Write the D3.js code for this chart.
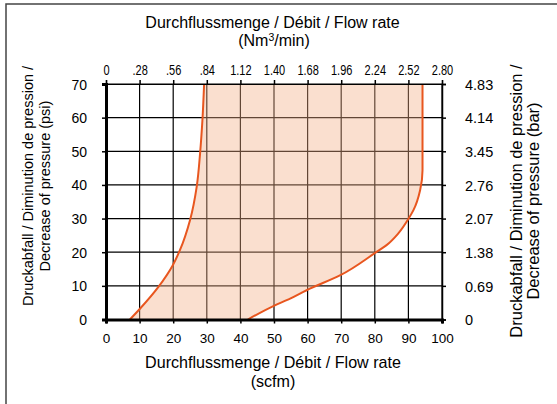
<!DOCTYPE html>
<html>
<head>
<meta charset="utf-8">
<script src="https://cdn.jsdelivr.net/npm/d3@7"></script>
<style>
  html, body { margin: 0; padding: 0; background: #fff; }
  svg { display: block; font-family: "Liberation Sans", Arial, sans-serif; }
</style>
</head>
<body>
<script>
// Flow rate (scfm) vs pressure drop (psi)
const scfmTicks = [0, 10, 20, 30, 40, 50, 60, 70, 80, 90, 100];
const psiTicks = [0, 10, 20, 30, 40, 50, 60, 70];
const nmTickLabels = ["0", ".28", ".56", ".84", "1.12", "1.40", "1.68", "1.96", "2.24", "2.52", "2.80"];
const barTickLabels = ["0", "0.69", "1.38", "2.07", "2.76", "3.45", "4.14", "4.83"];

// Lower flow limit curve: [scfm, psi]
const minCurve = [
  [7.1, 0], [10.1, 3.2], [15.6, 9.7], [19.8, 16], [22.0, 20.6], [25.0, 29.5],
  [27.0, 39.5], [28.0, 49.4], [28.7, 59.3], [29.2, 70]
];
// Upper flow limit curve: [scfm, psi]
const maxCurve = [
  [42.2, 0], [49.8, 4], [54.8, 6.2], [59.7, 8.7], [69.6, 13.1],
  [80.1, 19.8], [83.5, 22.1], [87.0, 25.6], [90.0, 29.9], [91.5, 32.5],
  [93.5, 38.5], [94.2, 44.4], [94.2, 70]
];

const W = 557, H = 404;
const plot = { left: 106, right: 442, top: 84, bottom: 319.5 };
const FONT = "'Liberation Sans', Arial, sans-serif";

const svg = d3.select("body").append("svg").attr("width", W).attr("height", H);

// outer frame
svg.append("rect").attr("x", 6).attr("y", 4).attr("width", 600).attr("height", 500)
  .attr("fill", "none").attr("stroke", "#444").attr("stroke-width", 1.5);

const x = d3.scaleLinear().domain([0, 100]).range([plot.left, plot.right]);
const y = d3.scaleLinear().domain([0, 70]).range([plot.bottom, plot.top]);
const xTop = d3.scalePoint().domain(nmTickLabels).range([plot.left, plot.right]);
const yRight = d3.scalePoint().domain(barTickLabels).range([plot.bottom, plot.top]);

const g = svg.append("g");

// grid
g.append("g").selectAll("line").data(scfmTicks).join("line")
  .attr("x1", d => x(d)).attr("x2", d => x(d))
  .attr("y1", plot.top).attr("y2", plot.bottom)
  .attr("stroke", "#000").attr("stroke-width", 1.2);
g.append("g").selectAll("line").data(psiTicks).join("line")
  .attr("x1", plot.left).attr("x2", plot.right)
  .attr("y1", d => y(d)).attr("y2", d => y(d))
  .attr("stroke", "#000").attr("stroke-width", 1.2);

// operating range fill
const area = minCurve.concat(maxCurve.slice().reverse());
const curve = d3.line().x(d => x(d[0])).y(d => y(d[1])).curve(d3.curveMonotoneY);
const poly = d3.line().x(d => x(d[0])).y(d => y(d[1])).curve(d3.curveLinearClosed);
g.append("path").datum(area).attr("d", poly)
  .attr("fill", "rgb(242,175,135)").attr("fill-opacity", 0.4).attr("stroke", "none");

// curves
[minCurve, maxCurve].forEach(c => {
  g.append("path").datum(c).attr("d", curve)
    .attr("fill", "none").attr("stroke", "#e8561f").attr("stroke-width", 2);
});

// axes
const axB = d3.axisBottom(x).tickValues(scfmTicks).tickSize(4).tickPadding(10);
const axL = d3.axisLeft(y).tickValues(psiTicks).tickSize(4).tickPadding(15);
const axT = d3.axisTop(xTop).tickSize(4).tickPadding(5);
const axR = d3.axisRight(yRight).tickSize(4).tickPadding(19);

function styleAxis(sel, w, size) {
  sel.attr("font-family", null).attr("font-size", null);
  sel.select(".domain").attr("stroke", "#000").attr("stroke-width", w);
  sel.selectAll(".tick line").attr("stroke", "#000").attr("stroke-width", 1.5);
  sel.selectAll(".tick text").attr("fill", "#000").style("font-size", size + "px")
    .style("font-family", FONT);
}
const gT = svg.append("g").attr("transform", `translate(0,${plot.top})`).call(axT);
styleAxis(gT, 1.2, 14.5);
gT.selectAll(".tick text").attr("transform", "scale(0.76,1)");
const gR = svg.append("g").attr("transform", `translate(${plot.right},0)`).call(axR);
styleAxis(gR, 1.5, 14.5);
gR.selectAll(".tick text").attr("dy", "0.36em");
const gB = svg.append("g").attr("transform", `translate(0,${plot.bottom})`).call(axB);
styleAxis(gB, 3, 13.5);
const gL = svg.append("g").attr("transform", `translate(${plot.left},0)`).call(axL);
styleAxis(gL, 3, 14);
gL.selectAll(".tick text").attr("dy", "0.36em");

// titles
const title = (tx, ty, text, size, rot) => svg.append("text")
  .attr("transform", `translate(${tx},${ty})` + (rot ? ` rotate(${rot})` : ""))
  .attr("text-anchor", "middle").style("font-size", size + "px")
  .style("font-family", FONT).attr("fill", "#000")
  .text(text);

title(272.5, 27.5, "Durchflussmenge / Débit / Flow rate", 16);
const nm = svg.append("text").attr("x", 274).attr("y", 45.5).attr("text-anchor", "middle")
  .style("font-size", "16px").style("font-family", FONT).attr("fill", "#000");
nm.append("tspan").text("(Nm");
nm.append("tspan").text("3").attr("dy", -5).style("font-size", "10.5px");
nm.append("tspan").text("/min)").attr("dy", 5);

title(273, 368, "Durchflussmenge / Débit / Flow rate", 16.1);
title(273, 387, "(scfm)", 16.1);

title(33, 186, "Druckabfall / Diminution de pression /", 14.5, -90);
title(50, 186, "Decrease of pressure (psi)", 14.5, -90);
title(522, 201, "Druckabfall / Diminution de pression /", 16.5, -90);
title(539, 201, "Decrease of pressure (bar)", 16.5, -90);
</script>
</body>
</html>
